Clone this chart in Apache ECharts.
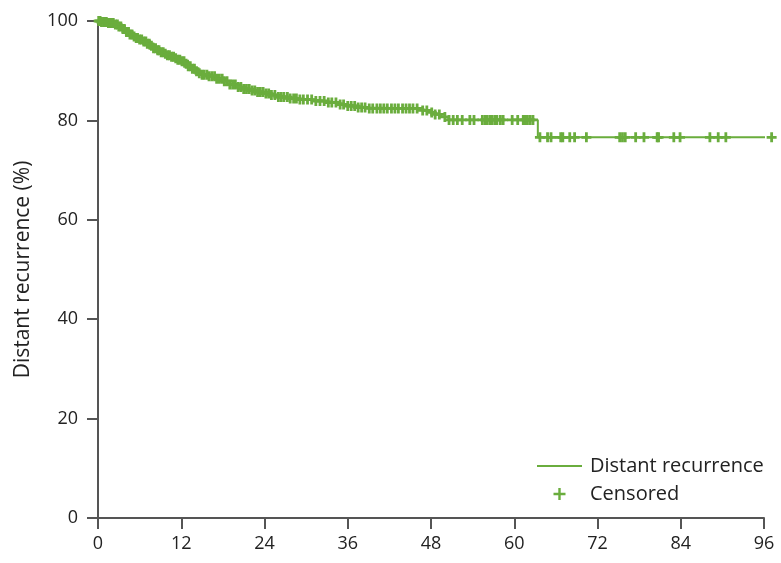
<!DOCTYPE html>
<html>
<head>
<meta charset="utf-8">
<script src="https://cdn.jsdelivr.net/npm/echarts@6/dist/echarts.min.js"></script>
<style>
html,body{margin:0;padding:0;background:#fff;}
#chart{width:781px;height:563px;}
</style>
</head>
<body>
<div id="chart"></div>
<script>
// Kaplan-Meier step curve: event times (months) and survival (%) after each event
var eventTimes = [0, 0.5, 1.5, 2.5, 3.0, 3.5, 4.0, 4.5, 5.0, 5.5, 6.0, 6.5, 7.0, 7.5, 8.0, 8.5, 9.0, 9.5, 10.0, 10.5, 11.0, 11.5, 12.0, 12.5, 13.0, 13.5, 14.0, 14.5, 15.0, 16.0, 17.0, 18.0, 19.0, 20.0, 21.0, 22.0, 23.0, 24.0, 25.0, 26.0, 27.5, 29.0, 31.0, 33.0, 34.5, 36.0, 37.5, 39.0, 46.5, 47.5, 48.5, 49.5, 50.5, 63.4, 97.2];
var survival   = [100, 99.8, 99.6, 99.3, 98.9, 98.4, 97.8, 97.3, 96.9, 96.6, 96.3, 95.9, 95.4, 95.0, 94.5, 94.1, 93.7, 93.4, 93.1, 92.8, 92.5, 92.2, 91.9, 91.4, 90.9, 90.4, 89.9, 89.5, 89.2, 88.9, 88.4, 87.9, 87.2, 86.7, 86.3, 86.0, 85.7, 85.4, 85.1, 84.7, 84.4, 84.2, 83.9, 83.6, 83.2, 82.9, 82.6, 82.4, 82.0, 81.6, 81.2, 80.7, 80.1, 76.6, 76.6];
// Censored observation times (months)
var censoredTimes = [0.1, 0.3, 0.5, 0.8, 1.0, 1.2, 1.5, 1.7, 2.0, 2.2, 2.5, 2.8, 3.0, 3.3, 3.6, 3.8, 4.1, 4.4, 4.6, 4.9, 5.2, 5.5, 5.7, 6.0, 6.3, 6.6, 6.9, 7.1, 7.4, 7.7, 8.0, 8.3, 8.6, 8.8, 9.1, 9.4, 9.7, 10.0, 10.3, 10.6, 10.9, 11.2, 11.5, 11.8, 12.1, 12.4, 12.7, 13.0, 13.3, 13.6, 13.9, 14.2, 14.6, 15.0, 15.3, 15.7, 16.0, 16.4, 16.8, 17.1, 17.5, 17.9, 18.2, 18.6, 19.0, 19.4, 19.8, 20.2, 20.6, 21.0, 21.4, 21.8, 22.2, 22.6, 23.0, 23.4, 23.8, 24.2, 24.6, 25.0, 25.5, 26.0, 26.4, 26.8, 27.3, 27.7,
  28.2, 28.6, 29.1, 29.6, 30.2, 30.8, 31.4, 32.0, 32.6, 33.2, 33.7, 34.3, 34.9, 35.4, 36.0, 36.5, 37.0, 37.5, 38.0, 38.5, 39.1, 39.6, 40.2, 40.7, 41.2, 41.7, 42.3, 42.8, 43.3, 43.9, 44.4, 44.9, 45.4, 46.0, 46.8, 47.4, 48.1, 48.6, 49.2, 50.0, 50.6, 51.2, 51.8, 52.5, 53.6, 54.2, 55.4, 55.8, 56.1, 56.5, 56.8, 57.2, 57.5, 58.0, 58.4, 59.7, 60.5, 61.3, 61.6, 61.9, 62.3, 62.7,
  63.7, 64.8, 65.3, 66.7, 67.0, 68.0, 68.7, 70.4, 75.2, 75.6, 76.0, 77.5, 78.7, 80.6, 80.8, 83.0, 83.9, 88.2, 89.4, 90.5, 97.1];
var xTicks = [0, 12, 24, 36, 48, 60, 72, 84, 96];
var yTicks = [0, 20, 40, 60, 80, 100];

var lineName = 'Distant recurrence';
var censName = 'Censored';
var green = '#6aad3d';
var fontFam = '"Open Sans", "Noto Sans", sans-serif';

var curveData = eventTimes.map(function (t, i) { return [t, survival[i]]; });
function survAt(t) {
  var s = survival[0];
  for (var i = 0; i < eventTimes.length; i++) { if (eventTimes[i] <= t) s = survival[i]; }
  return s;
}
var censData = censoredTimes.map(function (t) { return [t, survAt(t)]; });

var plus = 'path://M3.6,0L6.4,0L6.4,3.6L10,3.6L10,6.4L6.4,6.4L6.4,10L3.6,10L3.6,6.4L0,6.4L0,3.6L3.6,3.6Z';
var plusLegend = 'path://M4,0L6,0L6,4L10,4L10,6L6,6L6,10L4,10L4,6L0,6L0,4L4,4Z';

var chart = echarts.init(document.getElementById('chart'), null, {renderer: 'canvas'});
chart.setOption({
  animation: false,
  backgroundColor: '#fff',
  grid: {left: 98, right: 17, top: 21, bottom: 45, containLabel: false},
  legend: {
    orient: 'vertical', left: 537, top: 456, padding: 0,
    itemWidth: 45, itemHeight: 12, itemGap: 8,
    textStyle: {fontSize: 20, color: '#222', fontFamily: fontFam, padding: [0, 0, 0, 3]},
    data: [
      {name: lineName, icon: 'path://M0,0L45,0L45,2L0,2Z'},
      {name: censName, icon: plusLegend}
    ]
  },
  xAxis: {
    type: 'value', min: 0, max: 96, interval: 12,
    axisLine: {show: true, onZero: false, lineStyle: {color: '#555', width: 2}},
    axisTick: {show: true, length: 11, lineStyle: {color: '#555', width: 2}},
    axisLabel: {fontSize: 18, color: '#222', fontFamily: fontFam, margin: 17,
      formatter: function (v) { return xTicks.indexOf(v) >= 0 ? String(v) : ''; }},
    splitLine: {show: false}
  },
  yAxis: {
    type: 'value', min: 0, max: 100, interval: 20,
    name: 'Distant recurrence (%)', nameLocation: 'middle', nameGap: 64,
    nameTextStyle: {fontSize: 21, color: '#222', fontFamily: fontFam},
    axisLine: {show: true, onZero: false, lineStyle: {color: '#555', width: 2}},
    axisTick: {show: true, length: 11, lineStyle: {color: '#555', width: 2}},
    axisLabel: {fontSize: 18, color: '#222', fontFamily: fontFam, margin: 20,
      formatter: function (v) { return yTicks.indexOf(v) >= 0 ? String(v) : ''; }},
    splitLine: {show: false}
  },
  series: [
    {
      name: lineName, type: 'line', step: 'end', data: curveData,
      symbol: 'none', clip: false,
      lineStyle: {color: green, width: 2},
      itemStyle: {color: green}
    },
    {
      name: censName, type: 'scatter', data: censData,
      symbol: plus, symbolSize: 10, clip: false,
      itemStyle: {color: green, opacity: 1}
    }
  ]
});
</script>
</body>
</html>
